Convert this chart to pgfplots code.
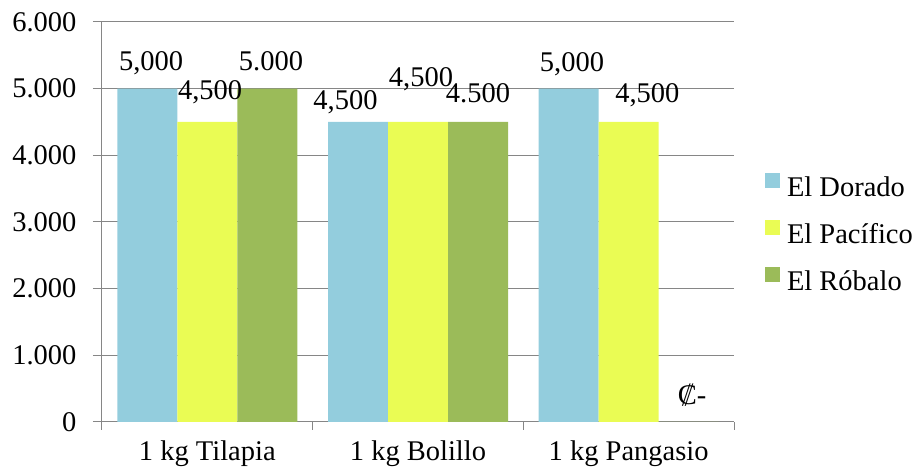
\documentclass[border=0pt]{standalone}
\usepackage{pgfplots}
\pgfplotsset{compat=1.18}
\usepackage{fontspec}
\setmainfont{Liberation Serif}
\definecolor{cBlue}{RGB}{147,205,221}
\definecolor{cYel}{RGB}{234,252,84}
\definecolor{cGrn}{RGB}{155,187,89}
\definecolor{cGrid}{RGB}{134,134,134}
\newcommand\lab{\fontsize{28.5}{30}\selectfont}
\begin{document}
\begin{tikzpicture}
\useasboundingbox (-102pt,-48pt) rectangle (818pt,422pt);
\begin{axis}[
  at={(0,0)}, anchor=south west,
  scale only axis, width=632pt, height=400pt,
  xmin=-0.5, xmax=2.5, ymin=0, ymax=6000,
  ybar=0pt, bar width=60pt,
  clip=false,
  axis x line*=bottom, axis y line*=left,
  axis line style={cGrid, line width=1pt},
  ymajorgrids, grid style={cGrid, line width=1pt},
  ytick={0,1000,...,6000}, scaled y ticks=false,
  /pgf/number format/assume math mode=true,
  yticklabel style={xshift=-13pt, /pgf/number format/.cd, 1000 sep={.}},
  xtick={0,1,2},
  xticklabels={1 kg Tilapia, 1 kg Bolillo, 1 kg Pangasio},
  xticklabel style={yshift=-6pt},
  x tick style={draw=none},
  extra x ticks={-0.5,0.5,1.5,2.5}, extra x tick labels={},
  extra x tick style={x tick style={draw=cGrid, line width=1pt}, major tick length=8pt, tick align=outside, grid=none},
  y tick style={draw=cGrid, line width=1pt},
  tick align=outside, major tick length=9pt,
  every tick label/.append style={font=\lab},
  legend style={draw=none, fill=none, at={(1.044,0.4675)}, anchor=west, font=\lab,
     row sep=17pt, nodes={inner sep=0pt, text height=20pt, text depth=6pt},
     /tikz/every even column/.append style={column sep=0pt}},
  legend cell align=left,
  legend image code/.code={\fill[#1] (0pt,2pt) rectangle (15pt,17pt); \path (22pt,0pt);},
]
\addplot[fill=cBlue, draw=none] coordinates {(0,5000) (1,4500) (2,5000)};
\addplot[fill=cYel, draw=none] coordinates {(0,4500) (1,4500) (2,4500)};
\addplot[fill=cGrn, draw=none] coordinates {(0,5000) (1,4500) (2,0)};
\legend{El Dorado, El Pacífico, El Róbalo}
\begin{scope}[every node/.style={anchor=base, inner sep=0pt, font=\lab}]
\node at (axis cs:-0.267,5265) {5,000};
\node at (axis cs:0.013,4830) {4,500};
\node at (axis cs:0.302,5265) {5.000};
\node at (axis cs:0.656,4680) {4,500};
\node at (axis cs:1.014,5025) {4,500};
\node at (axis cs:1.285,4785) {4.500};
\node at (axis cs:1.731,5250) {5,000};
\node at (axis cs:2.089,4785) {4,500};
\node at (axis cs:2.301,255) {₡-};
\end{scope}
\end{axis}
\end{tikzpicture}
\end{document}
